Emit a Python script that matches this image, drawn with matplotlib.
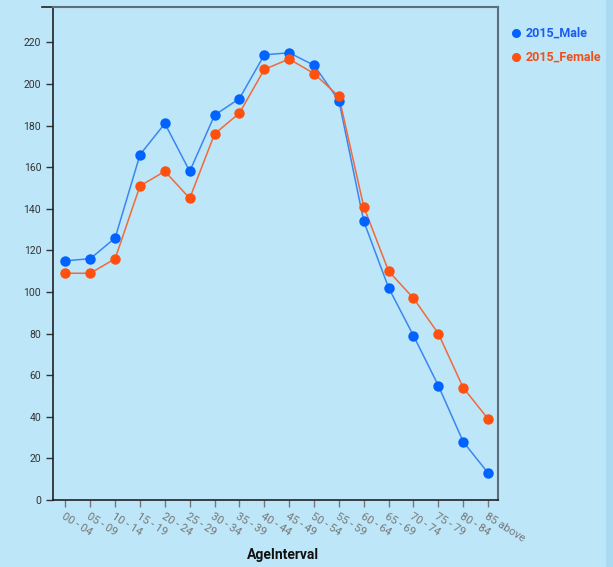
import matplotlib
matplotlib.use("Agg")
import matplotlib.pyplot as plt
from matplotlib.patches import Rectangle
from matplotlib import font_manager

categories = ["00 - 04", "05 - 09", "10 - 14", "15 - 19", "20 - 24", "25 - 29",
              "30 - 34", "35 - 39", "40 - 44", "45 - 49", "50 - 54", "55 - 59",
              "60 - 64", "65 - 69", "70 - 74", "75 - 79", "80 - 84", "85 above"]
male = [115, 116, 126, 166, 181, 158, 185, 193, 214, 215, 209, 192,
        134, 102, 79, 55, 28, 13]
female = [109, 109, 116, 151, 158, 145, 176, 186, 207, 212, 205, 194,
          141, 110, 97, 80, 54, 39]
yticks = list(range(0, 221, 20))

names = {f.name for f in font_manager.fontManager.ttflist}
NARROW = "Liberation Sans Narrow" if "Liberation Sans Narrow" in names else "Roboto"
LEG_FS = 10.5 if NARROW != "Roboto" else 9

BG = "#bde6f8"
W, H = 613, 567
fig = plt.figure(figsize=(W / 100, H / 100), dpi=100)
fig.patch.set_facecolor(BG)
fig.patches.append(Rectangle((606 / W, 0), 1 - 606 / W, 1, transform=fig.transFigure,
                             facecolor="#a9daf2", edgecolor="none", zorder=0))

ax = fig.add_axes([53 / W, 67 / H, (498 - 53) / W, 493 / H])
ax.set_facecolor(BG)
x = list(range(len(categories)))
ax.plot(x, male, color="#3a86f0", lw=1.1, zorder=2)
ax.plot(x, female, color="#f06a3a", lw=1.1, zorder=2)
ax.plot(x, male, "o", color="#0062ff", ms=7.5, mec="none", zorder=3)
ax.plot(x, female, "o", color="#ff5010", ms=7.5, mec="none", zorder=3)

ax.set_xlim(-0.5, 17.4)
ax.set_ylim(0, 237)
ax.set_yticks(yticks)
ax.set_yticklabels([str(v) for v in yticks], fontsize=7.5, color="#333333", family="Roboto")
ax.set_xticks(x)
ax.set_xticklabels(categories, rotation=-32, ha="left", va="top", rotation_mode="anchor",
                   fontsize=8, color="#777777", family="Roboto")
ax.tick_params(axis="both", length=5, width=1, color="#333333")
ax.tick_params(axis="x", color="#777777", pad=3)
for s in ["left", "bottom"]:
    ax.spines[s].set_color("#222222")
    ax.spines[s].set_linewidth(1.2)
for s in ["top", "right"]:
    ax.spines[s].set_color("#5b6e7a")
    ax.spines[s].set_linewidth(1.5)
# outer tick at top of y domain
ax.plot([-0.5 - 0.45, -0.5], [237, 237], color="#222222", lw=1.2, clip_on=False)

fig.text(283 / W, 1 - 555 / H, "AgeInterval", ha="center", va="center",
         fontsize=11 if NARROW != "Roboto" else 10, color="#111111", family=NARROW,
         fontweight="bold")

for yy, label, mc, tc in [(33, "2015_Male", "#0062ff", "#1a5cf0"),
                          (57, "2015_Female", "#ff5010", "#f0501a")]:
    fig.lines.append(plt.Line2D([516 / W], [1 - yy / H], marker="o", ms=6.5, color=mc,
                                mec="none", transform=fig.transFigure))
    fig.text(526 / W, 1 - yy / H, label, ha="left", va="center", fontsize=LEG_FS,
             color=tc, family=NARROW, fontweight="bold")

fig.savefig("out.png", dpi=100, facecolor=BG)
